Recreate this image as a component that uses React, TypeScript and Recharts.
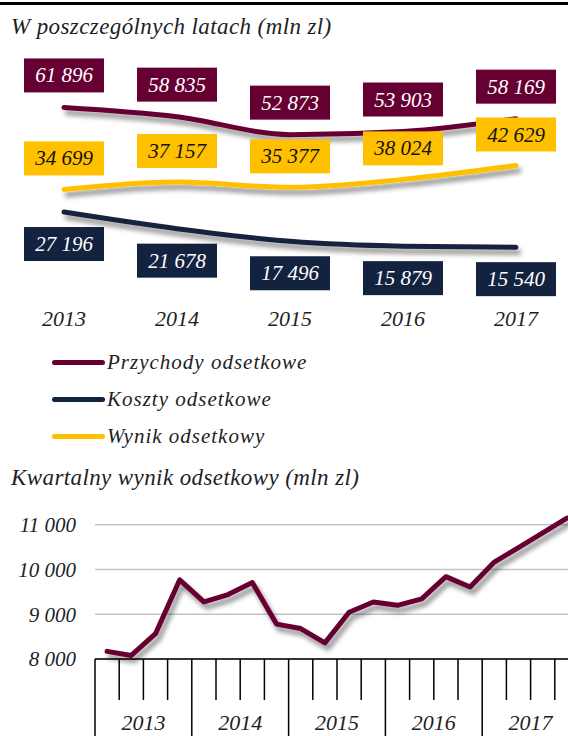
import React from "react";
import {
  CartesianGrid,
  LabelList,
  Legend,
  Line,
  LineChart,
  XAxis,
  YAxis,
} from "recharts";

// roczne (mln zl)
const years = ["2013", "2014", "2015", "2016", "2017"];
const przychody = [61896, 58835, 52873, 53903, 58169];
const koszty = [27196, 21678, 17496, 15879, 15540];
const wynik = [34699, 37157, 35377, 38024, 42629];
const seriesNames = ["Przychody odsetkowe", "Koszty odsetkowe", "Wynik odsetkowy"];

// kwartalny wynik odsetkowy (mln zl)
const quarterNames = ["Q1", "Q2", "Q3", "Q4"];
const quarters = years.flatMap((y) => quarterNames.map((q) => `${y} ${q}`));
const wynikKw = [
  8170, 8080, 8565, 9770, 9275, 9440, 9710, 8780, 8680, 8360, 9045, 9275,
  9200, 9345, 9840, 9610, 10165, 10490, 10820, 11150,
];
const kwTicks = [8000, 9000, 10000, 11000];

const MAROON = "#660033";
const NAVY = "#13233f";
const AMBER = "#ffc000";
const INK = "#1e1e24";
const FONT = '"Liberation Serif", "Times New Roman", serif';

const fmt = (v: number) => String(v).replace(/\B(?=(\d{3})+(?!\d))/g, " ");

const yearly = years.map((year, i) => ({
  year,
  przychody: przychody[i],
  koszty: koszty[i],
  wynik: wynik[i],
}));
const quarterly = quarters.map((q, i) => ({ q, wynik: wynikKw[i] }));

// bottom chart geometry
const KW_W = 590;
const KW_YW = 95;
const KW_MR = 11;
const QW = (KW_W - KW_YW - KW_MR) / quarters.length;

// Excel-like soft shadow under the lines
const shadowCss = `.shadowed .recharts-line path, .shadowed path.recharts-curve { filter: url(#lineShadow) !important; }`;

const titleStyle = (top: number): React.CSSProperties => ({
  position: "absolute",
  left: 11,
  top,
  fontFamily: FONT,
  fontStyle: "italic",
  fontSize: 23,
  lineHeight: "23px",
  letterSpacing: 0.4,
  color: INK,
  whiteSpace: "nowrap",
});

function boxLabel(fill: string, color: string, dy: number) {
  return (props: any) => {
    const { x, y, value } = props;
    if (x == null || y == null) return null;
    const cy = y + dy;
    return (
      <g>
        <rect x={x - 40} y={cy - 17} width={80} height={34} fill={fill} />
        <text
          x={x}
          y={cy + 7}
          textAnchor="middle"
          fill={color}
          fontFamily={FONT}
          fontStyle="italic"
          fontSize={21}
        >
          {fmt(Number(value))}
        </text>
      </g>
    );
  };
}

const yearTick = (p: any) => (
  <text
    x={p.x}
    y={p.y + 32}
    textAnchor="middle"
    fill={INK}
    fontFamily={FONT}
    fontStyle="italic"
    fontSize={22}
  >
    {p.payload.value}
  </text>
);

const quarterTick = (p: any) => {
  const i = p.index;
  const x0 = p.x - QW / 2;
  const year = String(p.payload.value).split(" ")[0];
  return (
    <g>
      <line
        x1={x0}
        x2={x0}
        y1={p.y}
        y2={p.y + (i % 4 === 0 ? 80 : 41)}
        stroke="#000"
        strokeWidth={1.5}
      />
      {i === quarters.length - 1 && (
        <line x1={p.x + QW / 2} x2={p.x + QW / 2} y1={p.y} y2={p.y + 80} stroke="#000" strokeWidth={1.5} />
      )}
      {i % 4 === 2 && (
        <text
          x={x0}
          y={p.y + 71}
          textAnchor="middle"
          fill={INK}
          fontFamily={FONT}
          fontStyle="italic"
          fontSize={22}
        >
          {year}
        </text>
      )}
    </g>
  );
};

const renderLegend = (props: any) => {
  const items = [...(props.payload || [])].sort(
    (a: any, b: any) => seriesNames.indexOf(a.value) - seriesNames.indexOf(b.value)
  );
  return (
    <div>
      {items.map((e: any) => (
        <div key={e.value} style={{ display: "flex", alignItems: "center", height: 37 }}>
          <div
            style={{ width: 53, height: 5, borderRadius: 3, background: e.color, marginLeft: 52 }}
          />
          <span
            style={{
              fontFamily: FONT,
              fontStyle: "italic",
              fontSize: 21,
              color: INK,
              marginLeft: 2,
              letterSpacing: 1,
            }}
          >
            {e.value}
          </span>
        </div>
      ))}
    </div>
  );
};

export default function App() {
  return (
    <div
      className="shadowed"
      style={{
        position: "absolute",
        left: 0,
        top: 0,
        width: 568,
        height: 736,
        overflow: "hidden",
        background: "#fff",
      }}
    >
      <style>{shadowCss}</style>
      <svg width={1} height={1} style={{ position: "absolute", left: 0, top: 0 }}>
        <defs>
          <filter
            id="lineShadow"
            filterUnits="userSpaceOnUse"
            x={-50}
            y={-50}
            width={700}
            height={500}
          >
            <feGaussianBlur in="SourceAlpha" stdDeviation={2.5} />
            <feOffset dx={3} dy={5} result="blur" />
            <feComponentTransfer>
              <feFuncA type="linear" slope={0.45} />
            </feComponentTransfer>
            <feMerge>
              <feMergeNode />
              <feMergeNode in="SourceGraphic" />
            </feMerge>
          </filter>
        </defs>
      </svg>
      <div style={{ position: "absolute", left: 0, top: 2, width: 568, height: 3, background: "#000" }} />
      <div style={titleStyle(15)}>W poszczególnych latach (mln zl)</div>

      <div style={{ position: "absolute", left: 0, top: 0 }}>
        <LineChart
          width={568}
          height={460}
          data={yearly}
          margin={{ top: 83, right: 52, bottom: 120, left: 64 }}
        >
          <XAxis
            dataKey="year"
            axisLine={false}
            tickLine={false}
            tickSize={0}
            tickMargin={0}
            height={46}
            interval={0}
            tick={yearTick}
          />
          <YAxis hide domain={[0, 70000]} />
          <Line
            dataKey="przychody"
            name={seriesNames[0]}
            type="monotone"
            stroke={MAROON}
            strokeWidth={5}
            strokeLinecap="round"
            dot={false}
            isAnimationActive={false}
          >
            <LabelList dataKey="przychody" content={boxLabel(MAROON, "#fff", -32)} />
          </Line>
          <Line
            dataKey="koszty"
            name={seriesNames[1]}
            type="monotone"
            stroke={NAVY}
            strokeWidth={5}
            strokeLinecap="round"
            dot={false}
            isAnimationActive={false}
          >
            <LabelList dataKey="koszty" content={boxLabel(NAVY, "#fff", 32)} />
          </Line>
          <Line
            dataKey="wynik"
            name={seriesNames[2]}
            type="monotone"
            stroke={AMBER}
            strokeWidth={5}
            strokeLinecap="round"
            dot={false}
            isAnimationActive={false}
          >
            <LabelList dataKey="wynik" content={boxLabel(AMBER, "#111", -31)} />
          </Line>
          <Legend
            layout="vertical"
            align="center"
            verticalAlign="middle"
            content={renderLegend}
            wrapperStyle={{ position: "absolute", top: 344, left: 0, width: 400, margin: 0, padding: 0 }}
          />
        </LineChart>
      </div>

      <div style={titleStyle(466)}>Kwartalny wynik odsetkowy (mln zl)</div>

      <div style={{ position: "absolute", left: 0, top: 470 }}>
        <LineChart
          width={KW_W}
          height={266}
          data={quarterly}
          margin={{ top: 10, right: KW_MR, bottom: 0, left: 0 }}
        >
          <CartesianGrid
            vertical={false}
            horizontalValues={kwTicks}
            stroke="#c4c4c4"
            strokeWidth={1.5}
          />
          <XAxis
            dataKey="q"
            interval={0}
            height={77}
            axisLine={{ stroke: "#000", strokeWidth: 1.5 }}
            tickLine={false}
            tickSize={0}
            tickMargin={0}
            padding={{ left: QW / 2, right: QW / 2 }}
            tick={quarterTick}
          />
          <YAxis
            domain={[8000, 12000]}
            ticks={kwTicks}
            width={KW_YW}
            axisLine={false}
            tickLine={false}
            tickSize={0}
            tickMargin={19}
            tickFormatter={fmt}
            tick={{ fill: INK, fontSize: 21, fontStyle: "italic", fontFamily: FONT }}
          />
          <Line
            dataKey="wynik"
            type="linear"
            stroke={MAROON}
            strokeWidth={5}
            strokeLinejoin="round"
            strokeLinecap="round"
            dot={false}
            isAnimationActive={false}
          />
        </LineChart>
      </div>
    </div>
  );
}
